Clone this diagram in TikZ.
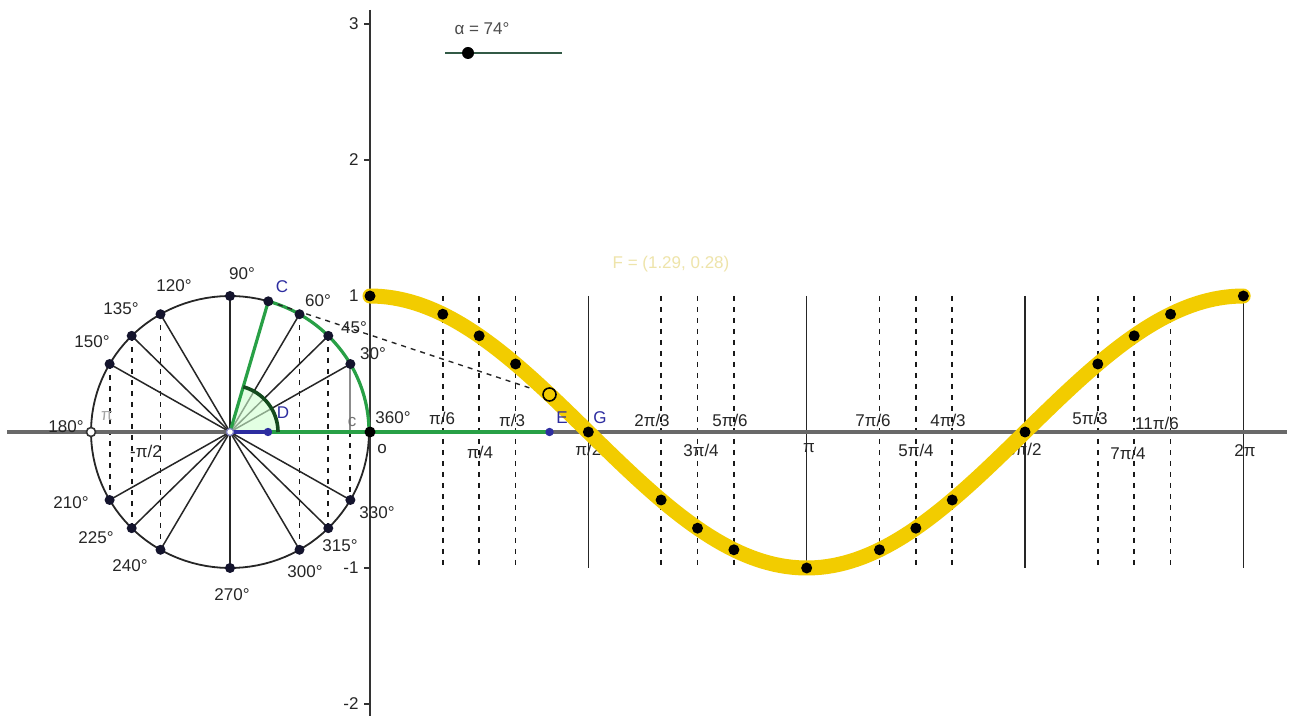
\documentclass[tikz,border=0pt]{standalone}
\usepackage{fontspec}
\setmainfont{Liberation Sans}
\definecolor{ptblue}{RGB}{45,45,160}
\definecolor{ggreen}{RGB}{40,160,70}
\definecolor{dkgreen}{RGB}{20,75,30}
\definecolor{curveyellow}{RGB}{242,204,0}
\definecolor{axisgray}{RGB}{105,105,105}
\definecolor{paleyellow}{RGB}{238,228,170}
\definecolor{slidergreen}{RGB}{50,90,70}
\begin{document}
\begin{tikzpicture}[x=0.5pt,y=-0.5pt,
  dot/.style={circle,fill=black,inner sep=0pt,minimum size=5.5pt},
  cdot/.style={circle,fill={rgb,255:red,20;green,20;blue,45},inner sep=0pt,minimum size=5pt},
  bdot/.style={circle,fill=ptblue,inner sep=0pt,minimum size=4.2pt},
  lbl/.style={font=\fontsize{8.5}{10}\selectfont,inner sep=0pt,text=black!85},
  blbl/.style={lbl,text=ptblue},
  vdash/.style={line width=0.9pt,black!90,dash pattern=on 2.5pt off 3pt},
  vsolid/.style={line width=0.8pt,black!85},
  spoke/.style={line width=0.75pt,black!85},
  gline/.style={line width=1.6pt,ggreen},
  ycurve/.style={line width=7.5pt,curveyellow,line cap=round}]
\useasboundingbox (0,0) rectangle (1291,716);
\fill[white] (0,0) rectangle (1291,716);

% ---- named points ----
\coordinate (ctrc) at (230,432);
\foreach \a in {30,45,60,74,90,120,135,150,180,210,225,240,270,300,315,330}
  \coordinate (c\a) at ({230+139*cos(\a)},{432-136*sin(\a)});
\coordinate (c30f) at ({230+139*cos(30)},432);
\coordinate (Opt) at (370,432);
\coordinate (Ept) at ({370+139*1.2915},432);
\coordinate (Dpt) at (268,432);
\coordinate (Fpt) at ({370+139*1.2915},{432-136*cos(74)});

% ---- dotted verticals in circle ----
\draw[vdash] (c150) -- (c210);
\draw[vdash] (c135) -- (c225);
\draw[vdash] (c120) -- (c240);
\draw[vdash] (c60) -- (c300);
\draw[vdash] (c45) -- (c315);
\draw[vdash] (c30f) -- (c330);
\draw[line width=1.1pt,black!45] (c30) -- (c30f);

% ---- spokes ----
\foreach \a in {30,45,60,90,120,135,150,210,225,240,270,300,315,330}
  \draw[spoke] (ctrc) -- (c\a);

% ---- circle ----
\draw[line width=0.9pt,black!85] plot[domain=0:360,samples=120] ({230+139*cos(\x)},{432-136*sin(\x)});

% ---- verticals in graph ----
\foreach \a in {30,45,60,120,135,150,210,225,240,300,315,330} {
  \coordinate (vt\a) at ({370+139*(\a/180)*pi},296);
  \coordinate (vb\a) at ({370+139*(\a/180)*pi},568);
  \draw[vdash] (vt\a) -- (vb\a);
}
\foreach \a in {90,180,270,360} {
  \coordinate (vt\a) at ({370+139*(\a/180)*pi},296);
  \coordinate (vb\a) at ({370+139*(\a/180)*pi},568);
  \draw[vsolid] (vt\a) -- (vb\a);
}

% ---- axes ----
\coordinate (xl) at (7,432);
\coordinate (xr) at (1287,432);
\coordinate (yt) at (370,10);
\coordinate (yb) at (370,716);
\draw[line width=1.6pt,axisgray] (xl) -- (xr);
\draw[line width=1pt,black!80] (yt) -- (yb);
\foreach \v/\t in {3/3,2/2,1/1,-1/-1,-2/-2} {
  \coordinate (tk\t) at (364,{432-136*\v});
  \coordinate (tka\t) at (370,{432-136*\v});
  \draw[line width=0.6pt,black!80] (tk\t) -- (tka\t);
  \node[lbl,anchor=east] at (359,{432-136*\v}) {\t};
}

% ---- x labels ----
\node[lbl] at (382,449) {o};
\node[lbl] at (442,418) {π/6};
\node[lbl] at (512,420) {π/3};
\node[lbl] at (480,452) {π/4};
\node[lbl,anchor=west] at (575,449) {π/2};
\node[lbl] at (652,420) {2π/3};
\node[lbl] at (730,420) {5π/6};
\node[lbl] at (701,450) {3π/4};
\node[lbl] at (809,448) {π};
\node[lbl] at (873,420) {7π/6};
\node[lbl] at (916,450) {5π/4};
\node[lbl] at (948,420) {4π/3};
\node[lbl,anchor=east] at (1042,449) {3π/2};
\node[lbl] at (1090,418) {5π/3};
\node[lbl] at (1128,453) {7π/4};
\node[lbl] at (1157,423) {11π/6};
\node[lbl] at (1245,451) {2π};
\node[lbl] at (146,451) {-π/2};
\node[lbl,text=black!35] at (107,416) {π};

% ---- sector ----
\fill[green!18!white,fill opacity=0.6] (ctrc) -- plot[domain=0:74,samples=30] ({230+48*cos(\x)},{432-47*sin(\x)}) -- cycle;

% ---- green and blue ----
\draw[gline] (ctrc) -- (Ept);
\draw[gline] (ctrc) -- (c74);
\draw[gline] plot[domain=0:74,samples=40] ({230+139*cos(\x)},{432-136*sin(\x)});
\draw[line width=1.6pt,ptblue] (ctrc) -- (Dpt);
\draw[line width=1.8pt,dkgreen] plot[domain=0:74,samples=30] ({230+48*cos(\x)},{432-47*sin(\x)});

% ---- dashed C to F ----
\draw[line width=0.7pt,black!85,dash pattern=on 2.5pt off 2.5pt] (c74) -- (Fpt);

% ---- curve ----
\draw[ycurve] plot[domain=0:6.2832,samples=150] ({370+139*\x},{432-136*cos(\x r)});

% ---- dots ----
\foreach \a in {30,45,60,74,90,120,135,150,210,225,240,270,300,315,330}
  \node[cdot] (d\a) at (c\a) {};
\node[circle,draw=black!80,fill=white,line width=0.8pt,inner sep=0pt,minimum size=4.5pt] (d180) at (c180) {};
\node[circle,draw=ptblue!60,fill=white,line width=0.6pt,inner sep=0pt,minimum size=3.5pt] (ctr) at (ctrc) {};
\node[bdot] (D) at (Dpt) {};
\node[bdot] (E) at (Ept) {};
\foreach \a in {0,30,45,60,90,120,135,150,180,210,225,240,270,300,315,330,360}
  \node[dot] (g\a) at ({370+139*(\a/180)*pi},{432-136*cos(\a)}) {};
\node[dot] (O) at (Opt) {};
\node[circle,draw=black,line width=0.8pt,inner sep=0pt,minimum size=6.5pt] (F) at (Fpt) {};

% ---- circle labels ----
\node[lbl] at (242,274) {90°};
\node[lbl] at (174,286) {120°};
\node[lbl] at (121,309) {135°};
\node[lbl] at (92,342) {150°};
\node[lbl] at (66,427) {180°};
\node[lbl] at (71,503) {210°};
\node[lbl] at (96,538) {225°};
\node[lbl] at (130,566) {240°};
\node[lbl] at (232,595) {270°};
\node[lbl] at (305,572) {300°};
\node[lbl] at (340,546) {315°};
\node[lbl] at (377,513) {330°};
\node[lbl] at (318,301) {60°};
\node[lbl] at (354,328) {45°};
\node[lbl] at (373,354) {30°};
\node[lbl] at (393,418) {360°};
\node[lbl,text=black!55] at (352,422) {c};
\node[blbl] at (282,287) {C};
\node[blbl] at (283,413) {D};
\node[blbl] at (562,418) {E};
\node[blbl] at (600,418) {G};

% ---- F label ----
\node[lbl,text=paleyellow] at (671,264) {F = (1.29, 0.28)};

% ---- slider ----
\node[lbl,text=black!70] at (482,29) {α = 74°};
\coordinate (sl) at (445,53);
\coordinate (sr) at (562,53);
\draw[line width=0.8pt,slidergreen] (sl) -- (sr);
\node[circle,fill=black,inner sep=0pt,minimum size=6pt] (sk) at (468,53) {};
\end{tikzpicture}
\end{document}
